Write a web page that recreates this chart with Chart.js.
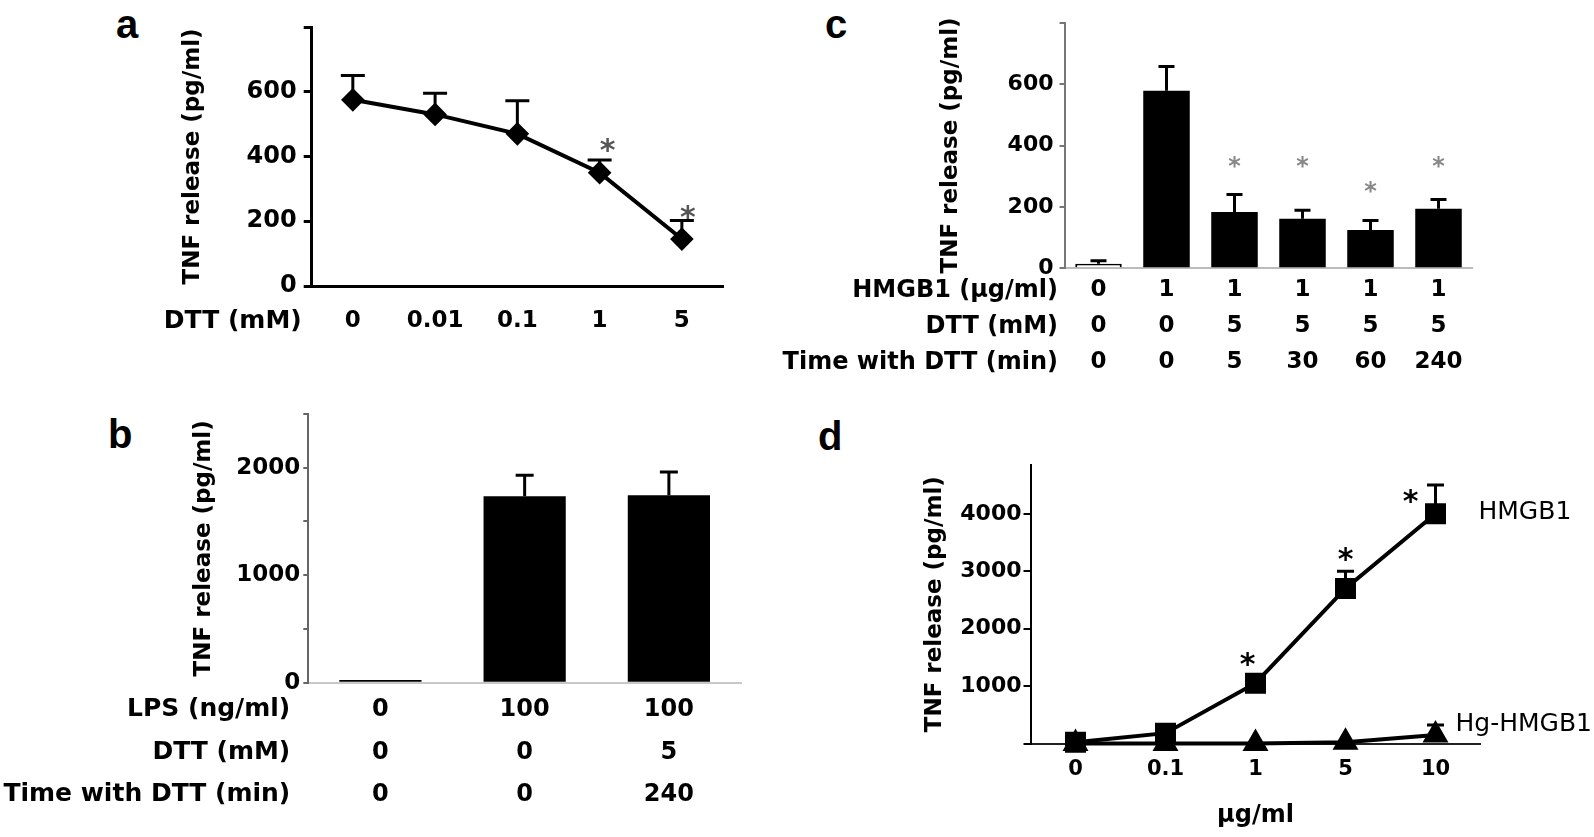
<!DOCTYPE html>
<html>
<head>
<meta charset="utf-8">
<title>TNF release</title>
<script src="https://cdn.jsdelivr.net/npm/chart.js@4.4.1/dist/chart.umd.min.js"></script>
<style>
  html, body { margin: 0; padding: 0; background: #fff; }
  body { width: 1594px; height: 837px; position: relative; overflow: hidden; }
  canvas { position: absolute; }
  .panel-letter { position: absolute; font: bold 40px/1 'Liberation Sans', Arial, sans-serif; color: #000; }
</style>
</head>
<body>
<div class="panel-letter" style="left:116px;top:4px">a</div>
<div class="panel-letter" style="left:108px;top:414px">b</div>
<div class="panel-letter" style="left:825px;top:4px">c</div>
<div class="panel-letter" style="left:818px;top:416px">d</div>

<canvas id="chart-a" width="760" height="380" style="left:0;top:0"></canvas>
<canvas id="chart-b" width="760" height="452" style="left:0;top:385px"></canvas>
<canvas id="chart-c" width="834" height="400" style="left:760px;top:0"></canvas>
<canvas id="chart-d" width="834" height="437" style="left:760px;top:400px"></canvas>

<script>
// ── Данные ────────────────────────────────────────────────────────
// a: DTT dose-response
const aDtt    = ['0', '0.01', '0.1', '1', '5'];
const aTnf    = [575, 530, 470, 350, 145];
const aTnfErr = [650, 595, 572, 389, 202];
const aStarAt = [null, null, null, 440, 235];

// b: LPS control
const bLps    = ['0', '100', '100'];
const bDtt    = ['0', '0', '5'];
const bTime   = ['0', '0', '240'];
const bTnf    = [25, 1735, 1745];
const bTnfErr = [null, 1930, 1960];

// c: time with DTT
const cHmgb1  = ['0', '1', '1', '1', '1', '1'];
const cDtt    = ['0', '0', '5', '5', '5', '5'];
const cTime   = ['0', '0', '5', '30', '60', '240'];
const cTnf    = [15, 578, 183, 161, 125, 194];
const cTnfErr = [25, 657, 240, 189, 156, 224];
const cStarAt = [null, null, 352, 352, 270, 352];

// d: HMGB1 vs Hg-HMGB1
const dDose      = ['0', '0.1', '1', '5', '10'];
const dHmgb1     = [20, 180, 1050, 2700, 4000];
const dHmgb1Err  = [40, 230, 1110, 3000, 4500];
const dHg        = [0, 0, 0, 20, 150];
const dHgErr     = [null, null, null, null, 320];
const dStarAt    = [null, null, 1500, 3330, 4350];
const dYTicks    = [0, 1000, 2000, 3000, 4000];

const FONT = "'DejaVu Sans', sans-serif";
const bold = (size, lineHeight = 1.2) => ({ family: FONT, size, weight: 'bold', lineHeight });

Chart.defaults.font.family = FONT;
Chart.defaults.color = '#000';

// ── Плагины ───────────────────────────────────────────────────────
// Планки погрешностей (только вверх), рисуются под маркерами
const errorBars = {
  id: 'errorBars',
  beforeDatasetsDraw(chart, args, opts) {
    const { ctx } = chart;
    const y = chart.scales.y;
    chart.data.datasets.forEach((ds, di) => {
      if (!ds.errTop) return;
      const meta = chart.getDatasetMeta(di);
      ctx.save();
      ctx.strokeStyle = opts.color || '#000';
      ctx.lineWidth = opts.width || 3;
      meta.data.forEach((el, i) => {
        const v = ds.errTop[i];
        if (v == null) return;
        const y0 = y.getPixelForValue(ds.data[i]);
        const y1 = y.getPixelForValue(v);
        ctx.beginPath();
        ctx.moveTo(el.x, y0);
        ctx.lineTo(el.x, y1);
        ctx.moveTo(el.x - opts.cap / 2, y1);
        ctx.lineTo(el.x + opts.cap / 2, y1);
        ctx.stroke();
      });
      ctx.restore();
    });
  }
};

// Звёздочки значимости
const stars = {
  id: 'stars',
  afterDatasetsDraw(chart, args, opts) {
    const ds = chart.data.datasets[0];
    if (!ds.starAt) return;
    const { ctx } = chart;
    const y = chart.scales.y;
    const meta = chart.getDatasetMeta(0);
    ctx.save();
    ctx.fillStyle = opts.color || '#000';
    ctx.font = `bold ${opts.size}px ${FONT}`;
    ctx.textAlign = 'center';
    ctx.textBaseline = 'alphabetic';
    ds.starAt.forEach((v, i) => {
      if (v == null) return;
      const dx = opts.dx ? opts.dx[i] : 0;
      ctx.fillText('*', meta.data[i].x + dx, y.getPixelForValue(v) + opts.size * 0.56);
    });
    ctx.restore();
  }
};

// Подписи строк слева от подписей категорий
const rowTitles = {
  id: 'rowTitles',
  afterDraw(chart, args, opts) {
    if (!opts.rows) return;
    const { ctx, chartArea } = chart;
    const x = chart.scales.x;
    ctx.save();
    ctx.fillStyle = '#000';
    ctx.font = `bold ${opts.size}px ${FONT}`;
    ctx.textAlign = 'right';
    ctx.textBaseline = 'middle';
    opts.rows.forEach((t, i) => {
      ctx.fillText(t, chartArea.left - opts.gap, x.top + opts.offset + opts.lineHeight * (i + 0.5));
    });
    ctx.restore();
  }
};

// Подписи серий у последней точки
const endLabels = {
  id: 'endLabels',
  afterDatasetsDraw(chart, args, opts) {
    if (!opts.dx) return;
    const { ctx } = chart;
    ctx.save();
    ctx.fillStyle = '#000';
    ctx.font = `${opts.size}px ${FONT}`;
    ctx.textAlign = 'left';
    ctx.textBaseline = 'middle';
    chart.data.datasets.forEach((ds, di) => {
      const pts = chart.getDatasetMeta(di).data;
      const last = pts[pts.length - 1];
      ctx.fillText(ds.label, last.x + opts.dx[di], last.y + opts.dy[di]);
    });
    ctx.restore();
  }
};

const noLegend = { legend: { display: false }, tooltip: { enabled: false } };

// ── a: линейный график ────────────────────────────────────────────
new Chart(document.getElementById('chart-a'), {
  type: 'line',
  data: {
    labels: aDtt,
    datasets: [{
      data: aTnf,
      errTop: aTnfErr,
      starAt: aStarAt,
      borderColor: '#000',
      borderWidth: 4,
      pointStyle: 'rectRot',
      pointRadius: 9,
      pointBackgroundColor: '#000',
      pointBorderColor: '#000',
      clip: false,
    }],
  },
  options: {
    responsive: false,
    animation: false,
    layout: { padding: { left: 0, top: 27, right: 37, bottom: 0 } },
    plugins: {
      ...noLegend,
      errorBars: { cap: 24, width: 3 },
      stars: { size: 30, color: '#555', dx: [0, 0, 0, 8, 6] },
      rowTitles: { rows: ['DTT (mM)'], size: 25, gap: 10, offset: 20, lineHeight: 30 },
    },
    scales: {
      x: {
        offset: true,
        grid: { drawOnChartArea: false, drawTicks: false },
        border: { color: '#000', width: 3 },
        ticks: { padding: 20, font: bold(23, 1.3), autoSkip: false, maxRotation: 0 },
        afterFit: s => { s.height = 94; },
      },
      y: {
        min: 0, max: 800,
        ticks: { stepSize: 200, padding: 7, font: bold(24), callback: v => (v <= 600 ? v : '') },
        grid: { drawOnChartArea: false, color: '#000', lineWidth: 3, tickLength: 8 },
        border: { color: '#000', width: 3 },
        title: { display: true, text: 'TNF release (pg/ml)', font: bold(23), padding: { top: 179.7, bottom: 0 } },
        afterFit: s => { s.width = 311.7; },
      },
    },
  },
  plugins: [errorBars, stars, rowTitles],
});

// ── b: столбцы LPS ────────────────────────────────────────────────
new Chart(document.getElementById('chart-b'), {
  type: 'bar',
  data: {
    labels: bLps.map((v, i) => [v, bDtt[i], bTime[i]]),
    datasets: [{
      data: bTnf,
      errTop: bTnfErr,
      backgroundColor: '#000',
      barPercentage: 0.57,
      categoryPercentage: 1,
    }],
  },
  options: {
    responsive: false,
    animation: false,
    layout: { padding: { left: 0, top: 29, right: 19, bottom: 0 } },
    plugins: {
      ...noLegend,
      errorBars: { cap: 18, width: 3 },
      rowTitles: { rows: ['LPS (ng/ml)', 'DTT (mM)', 'Time with DTT (min)'], size: 25, gap: 18, offset: 6, lineHeight: 42.5 },
    },
    scales: {
      x: {
        grid: { drawOnChartArea: false, drawTicks: false },
        border: { color: '#c8c8c8', width: 2 },
        ticks: { padding: 6, font: bold(24, 42.5 / 24), autoSkip: false, maxRotation: 0 },
        afterFit: s => { s.height = 154.3; },
      },
      y: {
        min: 0, max: 2500,
        ticks: { stepSize: 500, padding: 3, font: bold(23), callback: v => (v % 1000 === 0 ? v : '') },
        grid: { drawOnChartArea: false, color: '#666', lineWidth: 2, tickLength: 5 },
        border: { color: '#666', width: 2 },
        title: { display: true, text: 'TNF release (pg/ml)', font: bold(23), padding: { top: 190.2, bottom: 0 } },
        afterFit: s => { s.width = 308.3; },
      },
    },
  },
  plugins: [errorBars, rowTitles],
});

// ── c: столбцы по времени с DTT ───────────────────────────────────
new Chart(document.getElementById('chart-c'), {
  type: 'bar',
  data: {
    labels: cHmgb1.map((v, i) => [v, cDtt[i], cTime[i]]),
    datasets: [{
      data: cTnf,
      errTop: cTnfErr,
      starAt: cStarAt,
      backgroundColor: ['#fff', '#000', '#000', '#000', '#000', '#000'],
      borderColor: '#000',
      borderWidth: [2, 0, 0, 0, 0, 0],
      barPercentage: 0.684,
      categoryPercentage: 1,
    }],
  },
  options: {
    responsive: false,
    animation: false,
    layout: { padding: { left: 0, top: 22.7, right: 121.5, bottom: 0 } },
    plugins: {
      ...noLegend,
      errorBars: { cap: 16, width: 3 },
      stars: { size: 24, color: '#888' },
      rowTitles: { rows: ['HMGB1 (µg/ml)', 'DTT (mM)', 'Time with DTT (min)'], size: 24, gap: 6.5, offset: 4, lineHeight: 36 },
    },
    scales: {
      x: {
        grid: { drawOnChartArea: false, drawTicks: false },
        border: { color: '#bbb', width: 2, dash: [4, 4] },
        ticks: { padding: 4, font: bold(23, 36 / 23), autoSkip: false, maxRotation: 0 },
        afterFit: s => { s.height = 131.7; },
      },
      y: {
        min: 0, max: 800,
        ticks: { stepSize: 200, padding: 6, font: bold(22), callback: v => (v <= 600 ? v : '') },
        grid: { drawOnChartArea: false, color: '#777', lineWidth: 2, tickLength: 5 },
        border: { color: '#777', width: 2 },
        title: { display: true, text: 'TNF release (pg/ml)', font: bold(23), padding: { top: 177.2, bottom: 0 } },
        afterFit: s => { s.width = 304.5; },
      },
    },
  },
  plugins: [errorBars, stars, rowTitles],
});

// ── d: HMGB1 и Hg-HMGB1 ───────────────────────────────────────────
new Chart(document.getElementById('chart-d'), {
  type: 'line',
  data: {
    labels: dDose,
    datasets: [
      {
        label: 'HMGB1',
        data: dHmgb1,
        errTop: dHmgb1Err,
        starAt: dStarAt,
        borderColor: '#000',
        borderWidth: 4,
        pointStyle: 'rect',
        pointRadius: 12,
        pointBackgroundColor: '#000',
        pointBorderColor: '#000',
        clip: false,
      },
      {
        label: 'Hg-HMGB1',
        data: dHg,
        errTop: dHgErr,
        borderColor: '#000',
        borderWidth: 4,
        pointStyle: 'triangle',
        pointRadius: 11,
        pointBackgroundColor: '#000',
        pointBorderColor: '#000',
        clip: false,
      },
    ],
  },
  options: {
    responsive: false,
    animation: false,
    layout: { padding: { left: 0, top: 65, right: 113.5, bottom: 0 } },
    plugins: {
      ...noLegend,
      errorBars: { cap: 17, width: 3 },
      stars: { size: 30, color: '#000', dx: [0, 0, -8, 0, -25] },
      endLabels: { size: 25, dx: [43, 20], dy: [-1, -10] },
    },
    scales: {
      x: {
        offset: true,
        grid: { drawOnChartArea: false, drawTicks: false },
        border: { color: '#222', width: 2 },
        ticks: { padding: 13.4, font: bold(21), autoSkip: false, maxRotation: 0 },
        title: { display: true, text: 'µg/ml', font: bold(24), padding: { top: 0, bottom: 6.6 } },
        afterFit: s => { s.height = 93.5; },
      },
      y: {
        type: 'linear',
        min: 0, max: 4850,
        // ось доходит до 4850, но деления только на тысячах
        afterBuildTicks: s => { s.ticks = dYTicks.map(v => ({ value: v })); },
        ticks: {
          padding: 2, font: bold(22), autoSkip: false,
          callback: v => (v === 0 ? '' : String(v)),
        },
        grid: { drawOnChartArea: false, color: '#000', lineWidth: 2, tickLength: 7 },
        border: { color: '#000', width: 2 },
        title: { display: true, text: 'TNF release (pg/ml)', font: bold(23), padding: { top: 161.2, bottom: 0 } },
        afterFit: s => { s.width = 270.5; },
      },
    },
  },
  plugins: [errorBars, stars, endLabels],
});
</script>
</body>
</html>
